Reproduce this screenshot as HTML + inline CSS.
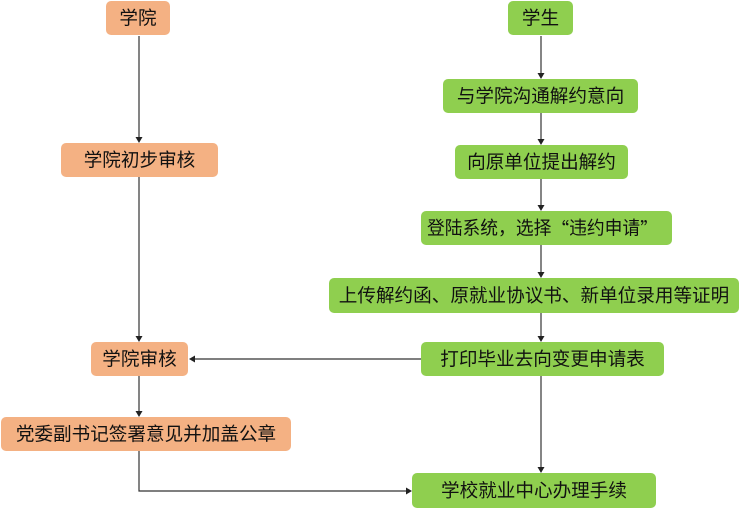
<!DOCTYPE html>
<html><head><meta charset="utf-8"><style>
html,body{margin:0;padding:0;background:#fff;}
svg{display:block;}
text{font-family:"Liberation Sans","Noto Sans CJK SC",sans-serif;font-size:18.6px;fill:#111;text-anchor:middle;dominant-baseline:central;}
.q{font-family:"Noto Sans CJK SC",sans-serif;}
.o{fill:#F4B183;}
.g{fill:#8FCF4F;}
.l{stroke:#333;stroke-width:1.2;fill:none;}
.a{fill:#222;}
</style></head><body>
<svg width="740" height="513" viewBox="0 0 740 513" xmlns="http://www.w3.org/2000/svg">
<!-- connectors -->
<path class="l" d="M139 36 V138"/><polygon class="a" points="135.5,137 142.5,137 139,143"/>
<path class="l" d="M139 177 V337"/><polygon class="a" points="135.5,336 142.5,336 139,342"/>
<path class="l" d="M139 376 V412"/><polygon class="a" points="135.5,411 142.5,411 139,417"/>
<path class="l" d="M139 451 V491 H407"/><polygon class="a" points="406,487.5 406,494.5 412,491"/>
<path class="l" d="M421 359 H194"/><polygon class="a" points="195,355.5 195,362.5 189,359"/>

<path class="l" d="M541 36 V74"/><polygon class="a" points="537.5,73 544.5,73 541,79"/>
<path class="l" d="M541 113 V140"/><polygon class="a" points="537.5,139 544.5,139 541,145"/>
<path class="l" d="M541 179 V206"/><polygon class="a" points="537.5,205 544.5,205 541,211"/>
<path class="l" d="M541 245 V273"/><polygon class="a" points="537.5,272 544.5,272 541,278"/>
<path class="l" d="M541 313 V337"/><polygon class="a" points="537.5,336 544.5,336 541,342"/>
<path class="l" d="M541 376 V468"/><polygon class="a" points="537.5,467 544.5,467 541,473"/>

<!-- left nodes -->
<rect class="o" x="106" y="1" width="64" height="34" rx="5"/><text x="138" y="18">学院</text>
<rect class="o" x="61" y="143" width="157" height="34" rx="5"/><text x="139.5" y="160">学院初步审核</text>
<rect class="o" x="91" y="342" width="97" height="34" rx="5"/><text x="139.5" y="359">学院审核</text>
<rect class="o" x="1" y="417" width="290" height="34" rx="5"/><text x="146" y="434">党委副书记签署意见并加盖公章</text>

<!-- right nodes -->
<rect class="g" x="508" y="1" width="65" height="34" rx="5"/><text x="540.5" y="18">学生</text>
<rect class="g" x="443" y="79" width="195" height="34" rx="5"/><text x="540.5" y="96">与学院沟通解约意向</text>
<rect class="g" x="455" y="145" width="173" height="34" rx="5"/><text x="541.5" y="162">向原单位提出解约</text>
<rect class="g" x="421" y="211" width="251" height="34" rx="5"/><text x="427" y="228" style="text-anchor:start" textLength="231" lengthAdjust="spacingAndGlyphs">登陆系统，选择<tspan class="q">“</tspan>违约申请<tspan class="q">”</tspan></text>
<rect class="g" x="329" y="278" width="410" height="35" rx="5"/><text x="534" y="295.5">上传解约函、原就业协议书、新单位录用等证明</text>
<rect class="g" x="421" y="342" width="243" height="34" rx="5"/><text x="542.5" y="359">打印毕业去向变更申请表</text>
<rect class="g" x="412" y="473" width="244" height="35" rx="5"/><text x="534" y="490.5">学校就业中心办理手续</text>
</svg>
</body></html>
